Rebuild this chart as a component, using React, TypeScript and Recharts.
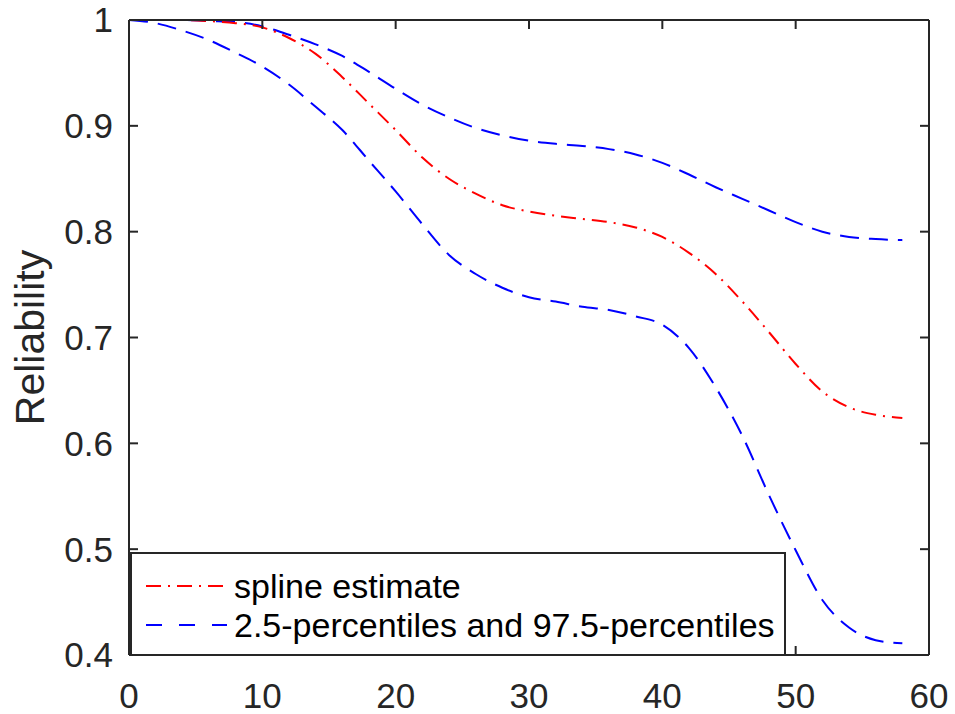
import React from 'react';
import { LineChart, Line, XAxis, YAxis } from 'recharts';

const xs = [0, 2, 4, 6, 8, 10, 12, 14, 16, 18, 20, 22, 24, 26, 28, 30, 32, 34, 36, 38, 40, 42, 44, 46, 48, 50, 52, 54, 56, 58];
const spline = [1.0, 1.0, 1.0, 0.999, 0.997, 0.993, 0.983, 0.968, 0.946, 0.921, 0.896, 0.87, 0.85, 0.836, 0.825, 0.819, 0.815, 0.812, 0.809, 0.804, 0.795, 0.78, 0.76, 0.734, 0.705, 0.675, 0.649, 0.634, 0.627, 0.624];
const upper = [1.0, 1.0, 1.0, 0.999, 0.998, 0.994, 0.986, 0.977, 0.966, 0.951, 0.935, 0.92, 0.908, 0.898, 0.891, 0.886, 0.883, 0.881, 0.878, 0.873, 0.865, 0.854, 0.842, 0.831, 0.82, 0.809, 0.8, 0.795, 0.793, 0.792];
const lower = [1.0, 0.997, 0.99, 0.981, 0.969, 0.956, 0.939, 0.918, 0.896, 0.867, 0.838, 0.807, 0.778, 0.76, 0.747, 0.738, 0.734, 0.729, 0.726, 0.72, 0.712, 0.69, 0.653, 0.607, 0.551, 0.499, 0.452, 0.426, 0.414, 0.411];

const xTicks = [0, 10, 20, 30, 40, 50, 60];
const yTicks = [0.4, 0.5, 0.6, 0.7, 0.8, 0.9, 1];
const yLabel = 'Reliability';
const legendLabels = ['spline estimate', '2.5-percentiles and 97.5-percentiles'];

const data = xs.map((x, i) => ({ x, spline: spline[i], upper: upper[i], lower: lower[i] }));

const FONT = '"Liberation Sans", Arial, Helvetica, sans-serif';
const AX = '#262626';
const TICK_LEN = 9;
const FS = 35;

const XTickBottom = (p: any) => (
  <g>
    <line x1={p.x} x2={p.x} y1={p.y - 28} y2={p.y - 28 - TICK_LEN} stroke={AX} strokeWidth={2} />
    <text x={p.x} y={p.y} dy="0.71em" textAnchor="middle" fontFamily={FONT} fontSize={FS} fill={AX}>
      {p.payload.value}
    </text>
  </g>
);

const XTickTop = (p: any) => (
  <line x1={p.x} x2={p.x} y1={p.y} y2={p.y + TICK_LEN} stroke={AX} strokeWidth={2} />
);

const YTickLeft = (p: any) => (
  <g>
    <line x1={p.x + 16} x2={p.x + 16 + TICK_LEN} y1={p.y} y2={p.y} stroke={AX} strokeWidth={2} />
    <text x={p.x} y={p.y} dy="0.355em" textAnchor="end" fontFamily={FONT} fontSize={FS} fill={AX}>
      {String(p.payload.value)}
    </text>
  </g>
);

const YTickRight = (p: any) => (
  <line x1={p.x} x2={p.x - TICK_LEN} y1={p.y} y2={p.y} stroke={AX} strokeWidth={2} />
);

const YLabel = (props: any) => {
  const vb = props.viewBox || { x: 0, y: 20, width: 129, height: 635 };
  const cx = vb.x + 44;
  const cy = vb.y + vb.height / 2;
  return (
    <text
      x={cx}
      y={cy}
      transform={`rotate(-90, ${cx}, ${cy})`}
      textAnchor="middle"
      fontFamily={FONT}
      fontSize={41}
      fill={AX}
    >
      {yLabel}
    </text>
  );
};

const LegendBox = () => (
  <svg width={656} height={104} style={{ display: 'block' }}>
    <rect x={1} y={1} width={654} height={102} fill="#ffffff" stroke={AX} strokeWidth={2} />
    <line x1={16} x2={97} y1={34} y2={34} stroke="#ff0000" strokeWidth={2} strokeDasharray="15 7 2 7" />
    <text x={104} y={34} dy="0.355em" fontFamily={FONT} fontSize={34} fill="#000">{legendLabels[0]}</text>
    <line x1={16} x2={97} y1={73} y2={73} stroke="#0000ff" strokeWidth={2} strokeDasharray="16 17" />
    <text x={104} y={73} dy="0.355em" fontFamily={FONT} fontSize={34} fill="#000">{legendLabels[1]}</text>
  </svg>
);

export default function App() {
  return (
    <div style={{ position: 'absolute', left: 0, top: 0, width: 955, height: 714, background: '#fff' }}>
      <LineChart width={955} height={714} data={data} margin={{ top: 19, right: 25, bottom: 0, left: 0 }}>
        <XAxis
          xAxisId="b"
          dataKey="x"
          type="number"
          domain={[0, 60]}
          ticks={xTicks}
          height={59}
          tickSize={0}
          tickMargin={28}
          axisLine={{ stroke: AX, strokeWidth: 2 }}
          tick={<XTickBottom />}
          interval={0}
        />
        <XAxis
          xAxisId="t"
          orientation="top"
          dataKey="x"
          type="number"
          domain={[0, 60]}
          ticks={xTicks}
          height={1}
          tickSize={0}
          tickMargin={0}
          axisLine={{ stroke: AX, strokeWidth: 2 }}
          tick={<XTickTop />}
          interval={0}
        />
        <YAxis
          yAxisId="l"
          type="number"
          domain={[0.4, 1]}
          ticks={yTicks}
          width={129}
          tickSize={0}
          tickMargin={16}
          axisLine={{ stroke: AX, strokeWidth: 2 }}
          tick={<YTickLeft />}
          interval={0}
          label={<YLabel />}
        />
        <YAxis
          yAxisId="r"
          orientation="right"
          type="number"
          domain={[0.4, 1]}
          ticks={yTicks}
          width={1}
          tickSize={0}
          tickMargin={0}
          axisLine={{ stroke: AX, strokeWidth: 2 }}
          tick={<YTickRight />}
          interval={0}
        />
        <Line xAxisId="t" yAxisId="r" dataKey="spline" type="monotone" stroke="none" strokeWidth={0} dot={false} activeDot={false} isAnimationActive={false} legendType="none" />
        <Line xAxisId="b" yAxisId="l" dataKey="upper" type="monotone" stroke="#0000ff" strokeWidth={2} strokeDasharray="19 10" dot={false} activeDot={false} isAnimationActive={false} />
        <Line xAxisId="b" yAxisId="l" dataKey="lower" type="monotone" stroke="#0000ff" strokeWidth={2} strokeDasharray="19 10" dot={false} activeDot={false} isAnimationActive={false} />
        <Line xAxisId="b" yAxisId="l" dataKey="spline" type="monotone" stroke="#ff0000" strokeWidth={2} strokeDasharray="15 7 2 7" dot={false} activeDot={false} isAnimationActive={false} />
      </LineChart>
      <div style={{ position: 'absolute', left: 130, top: 552, width: 656, height: 104 }}>
        <LegendBox />
      </div>
    </div>
  );
}
